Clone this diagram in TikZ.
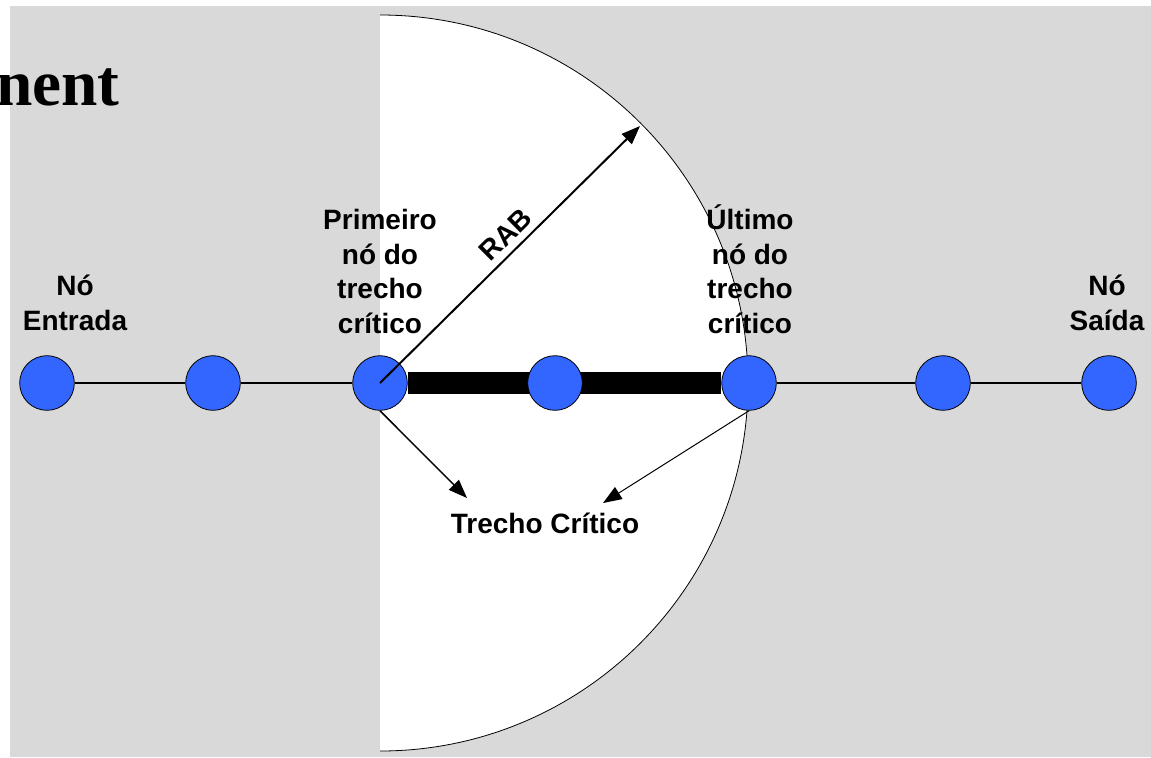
\documentclass[tikz,border=0pt]{standalone}
\usepackage{fontspec}
\setmainfont{Liberation Sans}
\newfontfamily\titlefont{Liberation Serif}
\usetikzlibrary{arrows.meta}
\definecolor{nodeblue}{RGB}{51,102,255}
\definecolor{slidegray}{RGB}{217,217,217}

\begin{document}
\begin{tikzpicture}[x=0.75pt,y=-0.75pt,>={Triangle[length=14pt,width=10.5pt]}]
\tikzset{VertexStyle/.style = {draw,circle,fill=nodeblue,
                               line width=0.6pt,
                               minimum size=41pt,inner sep=0pt},
         LabelStyle/.style = {align=center,inner sep=0pt,
                              font=\bfseries\fontsize{21}{26}\selectfont}}
\useasboundingbox (0,0) rectangle (1151,757);
\fill[slidegray] (10,6) rectangle (1151,757);
% white half disk of radius RAB
\begin{scope}
\clip (380,0) rectangle (800,757);
\draw[fill=white,line width=0.6pt] (380,383) circle [radius=276pt];
\end{scope}
\node[anchor=base west,inner sep=0pt,
      font=\titlefont\bfseries\fontsize{49}{58}\selectfont] (title) at (-4,105) {nent};
\node[VertexStyle] (n1) at (47,383) {};  \node[VertexStyle] (n2) at (213,383) {};
\node[VertexStyle] (n3) at (380,383) {}; \node[VertexStyle] (n5) at (749,383) {};
\node[VertexStyle] (n6) at (943,383) {}; \node[VertexStyle] (n7) at (1109,383) {};
\draw[line width=1.5pt] (n1) -- (n2) (n2) -- (n3) (n5) -- (n6) (n6) -- (n7);
\draw[line width=16.5pt] (n3) -- (n5);
\node[VertexStyle] (n4) at (555,383) {};
% labels
\node[LabelStyle,anchor=south] (entrada) at (75,331) {Nó\\Entrada};
\node[LabelStyle,anchor=south] (primeiro) at (380,334) {Primeiro\\nó do\\trecho\\crítico};
\node[LabelStyle,anchor=south] (ultimo) at (750,334) {Último\\nó do\\trecho\\crítico};
\node[LabelStyle,anchor=south] (saida) at (1107,331) {Nó\\Saída};
\node[LabelStyle,anchor=base] (trecho) at (545,533) {Trecho Crítico};
\coordinate (rabtip) at (640,126);
\coordinate (tcl) at (467,498);
\coordinate (tcr) at (603,503);
\draw[->,line width=1.5pt] (n3.center) -- node[LabelStyle,sloped,above=5pt,pos=0.53] (rab) {RAB} (rabtip);
\draw[->,line width=1.1pt] (n3.south) -- (tcl);
\draw[->,line width=0.75pt] (n5.south) -- (tcr);
\end{tikzpicture}
\end{document}
